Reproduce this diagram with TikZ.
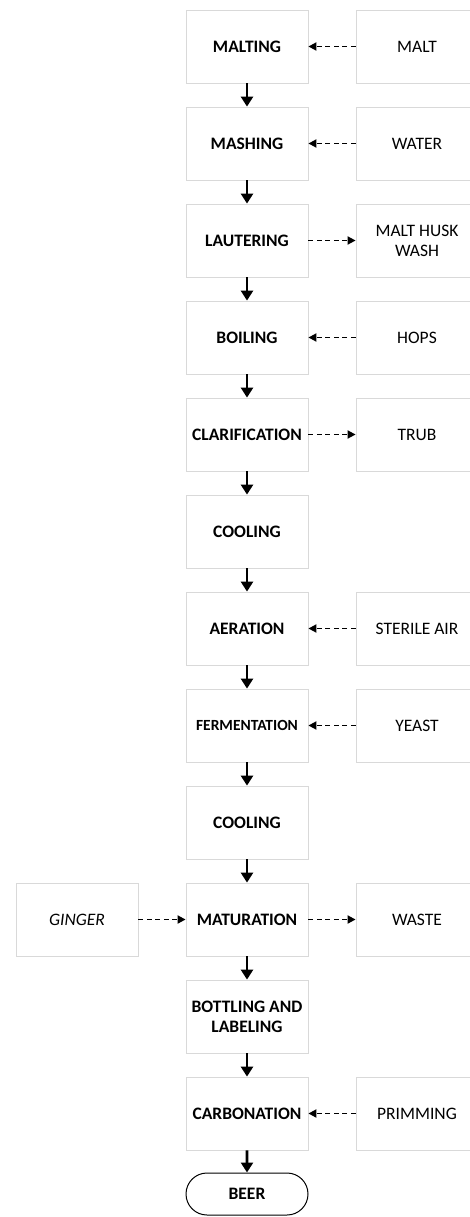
\documentclass[tikz,border=0pt]{standalone}
\usepackage{fontspec}
\setmainfont{Carlito}
\usetikzlibrary{arrows.meta,shapes.misc}
\begin{document}
\begin{tikzpicture}
  [
    x = 1pt, y = -1pt,
    stage/.style = {draw=gray!30, line width=0.8pt, minimum width=122pt, minimum height=73pt,
        inner sep=0pt, align=center, font=\fontsize{17.5}{20}\selectfont\bfseries},
    feed/.style = {draw=gray!30, line width=0.8pt, minimum width=122pt, minimum height=73pt,
        inner sep=0pt, align=center, font=\fontsize{17.5}{20}\selectfont},
    flow/.style = {-{Triangle[length=10pt,width=12pt]}, line width=2.6pt},
    side/.style = {-{Triangle[length=8pt,width=8pt]}, line width=1.8pt, dash pattern=on 5pt off 3.5pt},
  ]

  \useasboundingbox (0,0) rectangle (470,1217);

  % main line
  \node[stage] (malting) at (247,46.5) {MALTING};
  \node[stage] (mashing) at (247,143.5) {MASHING};
  \node[stage] (lautering) at (247,240.5) {LAUTERING};
  \node[stage] (boiling) at (247,337.5) {BOILING};
  \node[stage] (clarif) at (247,434.5) {CLARIFICATION};
  \node[stage] (cooling1) at (247,531.5) {COOLING};
  \node[stage] (aeration) at (247,628.5) {AERATION};
  \node[stage, font=\fontsize{15.5}{18}\selectfont\bfseries] (ferment) at (247,725.5) {FERMENTATION};
  \node[stage] (cooling2) at (247,822.5) {COOLING};
  \node[stage] (maturation) at (247,919.5) {MATURATION};
  \node[stage] (bottling) at (247,1016.5) {BOTTLING AND\\LABELING};
  \node[stage] (carbon) at (247,1113.5) {CARBONATION};
  \node[draw, line width=1pt, rounded rectangle, minimum width=122pt, minimum height=42pt,
        inner sep=0pt, font=\fontsize{17.5}{20}\selectfont\bfseries] (beer) at (247,1194) {BEER};

  % inputs and outputs
  \node[feed] (malt) at (417,46.5) {MALT};
  \node[feed] (water) at (417,143.5) {WATER};
  \node[feed] (husk) at (417,240.5) {MALT HUSK\\WASH};
  \node[feed] (hops) at (417,337.5) {HOPS};
  \node[feed] (trub) at (417,434.5) {TRUB};
  \node[feed] (air) at (417,628.5) {STERILE AIR};
  \node[feed] (yeast) at (417,725.5) {YEAST};
  \node[feed] (waste) at (417,919.5) {WASTE};
  \node[feed] (priming) at (417,1113.5) {PRIMMING};
  \node[feed, font=\fontsize{17.5}{20}\selectfont\itshape] (ginger) at (77,919.5) {GINGER};

  \draw[flow] (malting) -- (mashing);
  \draw[flow] (mashing) -- (lautering);
  \draw[flow] (lautering) -- (boiling);
  \draw[flow] (boiling) -- (clarif);
  \draw[flow] (clarif) -- (cooling1);
  \draw[flow] (cooling1) -- (aeration);
  \draw[flow] (aeration) -- (ferment);
  \draw[flow] (ferment) -- (cooling2);
  \draw[flow] (cooling2) -- (maturation);
  \draw[flow] (maturation) -- (bottling);
  \draw[flow] (bottling) -- (carbon);
  \draw[flow] (carbon) -- (beer);

  \draw[side] (malt) -- (malting);
  \draw[side] (water) -- (mashing);
  \draw[side] (lautering) -- (husk);
  \draw[side] (hops) -- (boiling);
  \draw[side] (clarif) -- (trub);
  \draw[side] (air) -- (aeration);
  \draw[side] (yeast) -- (ferment);
  \draw[side] (ginger) -- (maturation);
  \draw[side] (maturation) -- (waste);
  \draw[side] (priming) -- (carbon);

\end{tikzpicture}
\end{document}
